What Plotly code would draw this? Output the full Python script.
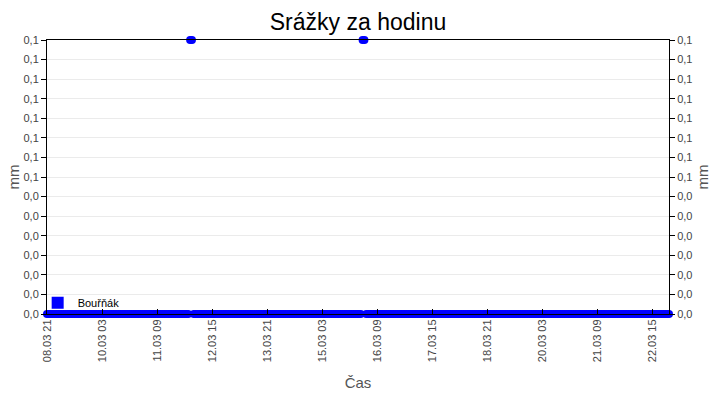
import plotly.graph_objects as go
import pandas as pd

# --- data ---
start_time = "2021-03-08 21:00"
n_hours = 340  # hourly samples 08.03 21:00 .. 23.03 00:00
times = pd.date_range(start_time, periods=n_hours, freq="h")
# precipitation per hour [mm]: zero except two short showers
precip = ([0.0] * 78 + [0.1, 0.1] + [0.0] * 92 + [0.1, 0.1] + [0.0] * 166)
series_name = "Bouřňák"

y_tickvals = [i * 0.1 / 14 for i in range(15)]
y_ticktext = ["0,0"] * 7 + ["0,1"] * 8
x_tickvals = pd.date_range(start_time, periods=12, freq="30h")
x_ticktext = [t.strftime("%d.%m %H") for t in x_tickvals]

font = "Liberation Sans, Arial, sans-serif"
blue = "#0000ff"

fig = go.Figure()
fig.add_trace(go.Scatter(
    x=times, y=precip, mode="markers", showlegend=False,
    marker=dict(color=blue, size=8, symbol="circle", line=dict(width=0)),
    cliponaxis=False,
))
fig.add_trace(go.Scatter(
    x=[None], y=[None], mode="markers", name=series_name,
    marker=dict(color=blue, size=12, symbol="square"),
))
# invisible trace on the right axis to show its labels
fig.add_trace(go.Scatter(x=[times[0]], y=[0], yaxis="y2", mode="markers",
                         marker=dict(opacity=0), showlegend=False, hoverinfo="skip"))

fig.update_layout(
    width=720, height=400,
    margin=dict(l=47, r=51, t=40, b=86, autoexpand=False),
    paper_bgcolor="white", plot_bgcolor="white",
    font=dict(family=font, size=11, color="#444444"),
    title=dict(text="Srážky za hodinu", x=0.5, xanchor="center",
               xref="paper", yref="container", y=1 - 22 / 400, yanchor="middle",
               font=dict(family=font, size=23, color="black")),
    xaxis=dict(
        range=[times[0], times[-1]], automargin=False,
        tickvals=list(x_tickvals), ticktext=x_ticktext, tickangle=-90,
        ticks="inside", ticklen=5, tickcolor="black",
        showline=True, linecolor="black", mirror=True, linewidth=1,
        showgrid=False, zeroline=False,
        title=dict(text="Čas", font=dict(size=15, color="#555555"), standoff=16),
        tickfont=dict(size=11, color="#444444"),
    ),
    yaxis=dict(
        range=[0, 0.1], tickvals=y_tickvals, ticktext=y_ticktext, automargin=False,
        ticks="outside", ticklen=5, tickcolor="black",
        showline=True, linecolor="black", linewidth=1,
        showgrid=True, gridcolor="#ebebeb", zeroline=False,
        title=dict(text="mm", font=dict(size=15, color="#555555"), standoff=0),
        tickfont=dict(size=11, color="#444444"),
    ),
    yaxis2=dict(
        range=[0, 0.1], tickvals=y_tickvals, ticktext=y_ticktext, automargin=False,
        overlaying="y", side="right",
        ticks="outside", ticklen=5, tickcolor="black",
        showline=True, linecolor="black", linewidth=1,
        showgrid=False, zeroline=False,
        title=dict(text="mm", font=dict(size=15, color="#555555"), standoff=6),
        tickfont=dict(size=11, color="#444444"),
    ),
    legend=dict(x=-0.015, y=-0.012, xanchor="left", yanchor="bottom",
                bgcolor="rgba(255,255,255,0)", font=dict(size=11, color="black"),
                itemwidth=30, tracegroupgap=0),
)

fig.write_html("out.html", config={"displayModeBar": False},
               post_script="document.body.style.margin='0';")
